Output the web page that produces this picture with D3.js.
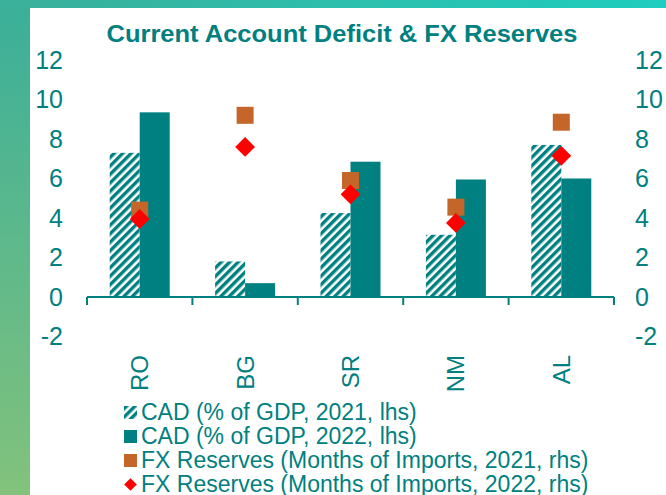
<!DOCTYPE html>
<html>
<head>
<meta charset="utf-8">
<script src="https://cdn.jsdelivr.net/npm/d3@7"></script>
<style>
  body { margin: 0; background: #fff; }
  svg { display: block; font-family: "Liberation Sans", Arial, sans-serif; }
</style>
</head>
<body>
<svg id="chart"></svg>
<script>
const categories = ["RO", "BG", "SR", "NM", "AL"];
const cad2021 = [7.3, 1.8, 4.25, 3.15, 7.7];
const cad2022 = [9.35, 0.7, 6.85, 5.95, 6.0];
const fx2021 = [4.4, 9.2, 5.9, 4.55, 8.85];
const fx2022 = [3.95, 7.6, 5.2, 3.75, 7.15];
const yTicks = [-2, 0, 2, 4, 6, 8, 10, 12];
const legendLabels = [
    "CAD (% of GDP, 2021, lhs)",
    "CAD (% of GDP, 2022, lhs)",
    "FX Reserves (Months of Imports, 2021, rhs)",
    "FX Reserves (Months of Imports, 2022, rhs)"
];

const width = 666;
const height = 495;
const teal = "#008080";
const orange = "#C4652A";
const red = "#FF0000";

const svg = d3.select("#chart")
    .attr("width", width)
    .attr("height", height);

const defs = svg.append("defs");

const topGrad = defs.append("linearGradient")
    .attr("id", "top-grad")
    .attr("x1", "0%").attr("y1", "0%")
    .attr("x2", "100%").attr("y2", "0%");
topGrad.append("stop").attr("offset", "0%").attr("stop-color", "#3AAF9A");
topGrad.append("stop").attr("offset", "100%").attr("stop-color", "#1FCDBE");

const leftGrad = defs.append("linearGradient")
    .attr("id", "left-grad")
    .attr("x1", "0%").attr("y1", "0%")
    .attr("x2", "0%").attr("y2", "100%");
leftGrad.append("stop").attr("offset", "0%").attr("stop-color", "#3AAF9A");
leftGrad.append("stop").attr("offset", "100%").attr("stop-color", "#82C27C");

const hatch = defs.append("pattern")
    .attr("id", "hatch")
    .attr("patternUnits", "userSpaceOnUse")
    .attr("width", 6)
    .attr("height", 6)
    .attr("patternTransform", "rotate(45)");
hatch.append("rect").attr("width", 6).attr("height", 6).attr("fill", "#fff");
hatch.append("rect").attr("width", 3.4).attr("height", 6).attr("fill", teal);

// background frame
svg.append("rect").attr("width", width).attr("height", 8).attr("fill", "url(#top-grad)");
svg.append("rect").attr("y", 0).attr("width", 30).attr("height", height).attr("fill", "url(#left-grad)");
svg.append("rect").attr("x", 30).attr("y", 8).attr("width", width - 30).attr("height", height - 8).attr("fill", "#fff");

svg.append("text")
    .attr("x", 342)
    .attr("y", 42)
    .attr("text-anchor", "middle")
    .attr("font-size", 24)
    .attr("font-weight", "bold")
    .attr("fill", teal)
    .attr("textLength", 471)
    .attr("lengthAdjust", "spacingAndGlyphs")
    .text("Current Account Deficit & FX Reserves");

const x0 = d3.scaleBand()
    .domain(categories)
    .range([87, 614])
    .padding(0);

const x1 = d3.scaleBand()
    .domain(["2021", "2022"])
    .range([0, x0.bandwidth()])
    .paddingInner(0)
    .paddingOuter(0.757);

const y = d3.scaleLinear()
    .domain([-2, 12])
    .range([336.5, 60]);

const yRight = d3.scaleLinear()
    .domain([-2, 12])
    .range([336.5, 60]);

// left axis labels
svg.append("g")
    .selectAll("text")
    .data(yTicks)
    .join("text")
    .attr("x", 63)
    .attr("y", d => y(d))
    .attr("dy", "0.35em")
    .attr("text-anchor", "end")
    .attr("font-size", 25)
    .attr("fill", teal)
    .text(d => d);

// right axis labels
svg.append("g")
    .selectAll("text")
    .data(yTicks)
    .join("text")
    .attr("x", 635)
    .attr("y", d => yRight(d))
    .attr("dy", "0.35em")
    .attr("text-anchor", "start")
    .attr("font-size", 25)
    .attr("fill", teal)
    .text(d => d);

const rows = categories.map((c, i) => ({
    cat: c, c21: cad2021[i], c22: cad2022[i], f21: fx2021[i], f22: fx2022[i]
}));

// bars
const groups = svg.append("g")
    .selectAll("g")
    .data(rows)
    .join("g")
    .attr("transform", d => `translate(${x0(d.cat)},0)`);

groups.append("rect")
    .attr("x", x1("2021"))
    .attr("y", d => y(d.c21))
    .attr("width", x1.bandwidth())
    .attr("height", d => y(0) - y(d.c21))
    .attr("fill", "url(#hatch)");

groups.append("rect")
    .attr("x", x1("2022"))
    .attr("y", d => y(d.c22))
    .attr("width", x1.bandwidth())
    .attr("height", d => y(0) - y(d.c22))
    .attr("fill", teal);

// zero line and ticks
svg.append("line")
    .attr("x1", x0.range()[0])
    .attr("x2", x0.range()[1])
    .attr("y1", y(0))
    .attr("y2", y(0))
    .attr("stroke", teal)
    .attr("stroke-width", 2);

const tickPos = categories.map(c => x0(c)).concat([x0.range()[1]]);
svg.append("g")
    .selectAll("line")
    .data(tickPos)
    .join("line")
    .attr("x1", d => d)
    .attr("x2", d => d)
    .attr("y1", y(0))
    .attr("y2", y(0) + 8)
    .attr("stroke", teal)
    .attr("stroke-width", 2);

// markers
const cx = d => x0(d.cat) + x0.bandwidth() / 2;

svg.append("g")
    .selectAll("path")
    .data(rows)
    .join("path")
    .attr("transform", d => `translate(${cx(d)},${yRight(d.f21)})`)
    .attr("d", d3.symbol(d3.symbolSquare, 17 * 17))
    .attr("fill", orange);

svg.append("g")
    .selectAll("path")
    .data(rows)
    .join("path")
    .attr("transform", d => `translate(${cx(d)},${yRight(d.f22)}) rotate(45)`)
    .attr("d", d3.symbol(d3.symbolSquare, 14 * 14))
    .attr("fill", red);

// category labels
svg.append("g")
    .selectAll("text")
    .data(categories)
    .join("text")
    .attr("transform", d => `translate(${x0(d) + x0.bandwidth() / 2},355) rotate(-90)`)
    .attr("dy", "0.35em")
    .attr("text-anchor", "end")
    .attr("font-size", 24)
    .attr("fill", teal)
    .text(d => d);

// legend
const legend = svg.append("g");
const legendY = [420, 444, 468, 492];

legendLabels.forEach((label, i) => {
    const g = legend.append("g").attr("transform", `translate(0,${legendY[i]})`);
    if (i === 0) {
        g.append("rect").attr("x", 124).attr("y", -14).attr("width", 13).attr("height", 13).attr("fill", "url(#hatch)");
    } else if (i === 1) {
        g.append("rect").attr("x", 124).attr("y", -14).attr("width", 13).attr("height", 13).attr("fill", teal);
    } else if (i === 2) {
        g.append("rect").attr("x", 124).attr("y", -14).attr("width", 13).attr("height", 13).attr("fill", orange);
    } else {
        g.append("path")
            .attr("transform", "translate(130.5,-7.5) rotate(45)")
            .attr("d", d3.symbol(d3.symbolSquare, 9 * 9))
            .attr("fill", red);
    }
    g.append("text")
        .attr("x", 141)
        .attr("y", 0)
        .attr("font-size", 23)
        .attr("fill", teal)
        .text(label);
});
</script>
</body>
</html>
